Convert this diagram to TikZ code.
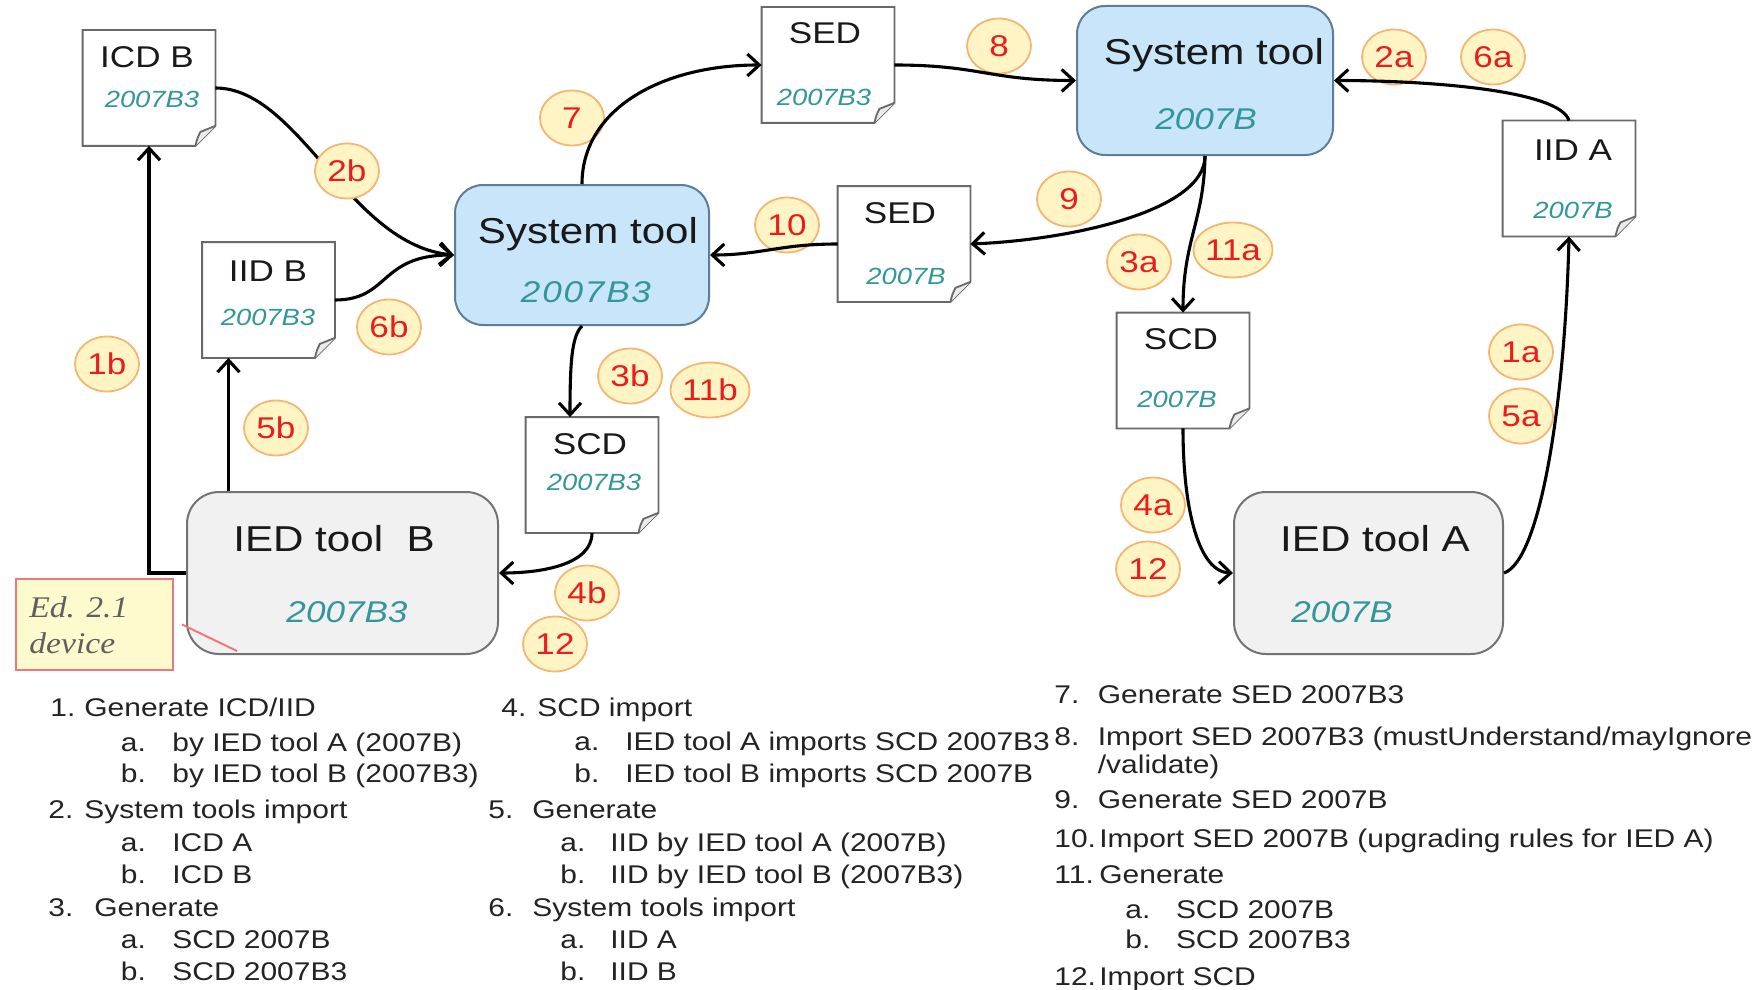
\documentclass[tikz,border=0pt]{standalone}
\usepackage{fontspec}
\setmainfont{Liberation Sans}[FakeStretch=1.17]
\newfontfamily\notefont{Liberation Serif}[FakeStretch=1.12]
\usetikzlibrary{arrows.meta,shapes.geometric,calc}

\definecolor{sysfill}{RGB}{200,229,249}
\definecolor{sysedge}{RGB}{95,125,150}
\definecolor{iedfill}{RGB}{241,241,241}
\definecolor{iededge}{RGB}{115,115,115}
\definecolor{vercol}{RGB}{50,150,155}
\definecolor{docedge}{RGB}{105,105,105}
\definecolor{flapfill}{RGB}{235,235,235}
\definecolor{badgefill}{RGB}{255,244,196}
\definecolor{badgeedge}{RGB}{244,182,115}
\definecolor{badgetext}{RGB}{232,30,30}
\definecolor{notefill}{RGB}{253,250,205}
\definecolor{noteedge}{RGB}{240,120,120}
\definecolor{notetext}{RGB}{95,95,95}
\definecolor{legendtext}{RGB}{35,35,35}
\definecolor{titletext}{RGB}{25,25,25}

\tikzset{
  flow/.style={line width=1.55pt, draw=black, -{Straight Barb[length=6pt,width=11pt]}},
  toolbox/.style={draw, line width=1pt, inner sep=0pt},
  systool/.style={toolbox, fill=sysfill, draw=sysedge, rounded corners=14pt},
  iedtool/.style={toolbox, fill=iedfill, draw=iededge, rounded corners=16pt},
  docnode/.style={inner sep=0pt, minimum width=66pt, minimum height=57.5pt},
  docline/.style={draw=docedge, line width=0.9pt},
  tooltitle/.style={anchor=base, inner sep=0pt, text=titletext, font=\fontsize{18}{18}\selectfont},
  toolver/.style={anchor=base, inner sep=0pt, text=vercol, font=\fontsize{15}{15}\selectfont\itshape},
  doctitle/.style={anchor=base, inner sep=0pt, text=titletext, font=\fontsize{15}{15}\selectfont},
  docver/.style={anchor=base, inner sep=0pt, text=vercol, font=\fontsize{11.7}{11.7}\selectfont\itshape},
  badge/.style={ellipse, draw=badgeedge, fill=badgefill, line width=0.9pt, text=badgetext,
    font=\fontsize{15}{15}\selectfont, inner sep=0pt, minimum width=32pt, minimum height=27.5pt},
  legend/.style={anchor=base west, inner sep=0pt, text=legendtext, font=\fontsize{12.8}{14}\selectfont},
  notebox/.style={draw=noteedge, fill=notefill, line width=1pt, minimum width=78.5pt, minimum height=45.5pt},
  notetxt/.style={anchor=base west, inner sep=0pt, text=notetext, font=\notefont\itshape\fontsize{15}{15}\selectfont},
}

% a document sheet with a curled lower right corner
\newcommand\docpage[6]{%
  \node[docnode] (#1) at #2 {};
  \draw[docline, fill=white] (#1.north west) -- (#1.north east) -- ($(#1.south east)+(0,-20)$)
    -- ($(#1.south east)+(-20,0)$) -- (#1.south west) -- cycle;
  \draw[docline, fill=flapfill] ($(#1.south east)+(-20,0)$) .. controls ($(#1.south east)+(-18,-8)$) ..
    ($(#1.south east)+(-15,-14)$) -- ($(#1.south east)+(0,-20)$);
  \node[doctitle] (#1-t) at #4 {#3};
  \node[docver] (#1-v) at #6 {#5};
}

\begin{document}
\begin{tikzpicture}[x=0.5pt,y=-0.5pt]
\useasboundingbox[fill=white] (0,0) rectangle (1761,990);

% tools
\node[systool, minimum width=127pt, minimum height=70pt] (stB3) at (582,255) {};
\node[tooltitle] (stB3-t) at (588,243) {System tool};
\node[toolver] (stB3-v) at (586,302) {\addfontfeature{LetterSpace=6}2007B3};

\node[systool, minimum width=128pt, minimum height=74.5pt] (stB) at (1205,80.5) {};
\node[tooltitle] (stB-t) at (1214,65) {System tool};
\node[toolver] (stB-v) at (1206,130) {2007B};

\node[iedtool, minimum width=155.5pt, minimum height=81pt] (iedB) at (342.5,573) {};
\node[tooltitle] (iedB-t) at (334,551) {IED tool\ \ B};
\node[toolver] (iedB-v) at (347,622) {2007B3};

\node[iedtool, minimum width=134.5pt, minimum height=81pt] (iedA) at (1368.5,573) {};
\node[tooltitle] (iedA-t) at (1375,551) {IED tool\ A};
\node[toolver] (iedA-v) at (1342,622) {2007B};

% documents
\docpage{icdb}{(149,88)}{ICD B}{(147,68)}{2007B3}{(152,108)}
\docpage{iidb}{(268.5,300)}{IID B}{(268,281)}{2007B3}{(268,325)}
\docpage{sedT}{(828,65)}{SED}{(825,44)}{2007B3}{(824,105)}
\docpage{sedM}{(904,244)}{SED}{(900,223)}{2007B}{(906,284)}
\docpage{iida}{(1569,178.5)}{IID A}{(1573,161)}{2007B}{(1573,218)}
\docpage{scdR}{(1183,370.5)}{SCD}{(1181,349)}{2007B}{(1177,407)}
\docpage{scdM}{(592,475)}{SCD}{(590,454)}{2007B3}{(594,490)}

% note
\node[notebox] (note) at (94.5,624.5) {};
\node[notetxt] (note-a) at (29,617) {Ed. 2.1};
\node[notetxt] (note-b) at (29,653) {device};
\coordinate (notetip) at (237,651);
\draw[draw=noteedge, line width=1pt] ([xshift=4pt]note.east) -- (notetip);

% step badges
\node[badge] (b7) at (572,118) {7};
\node[badge] (b8) at (999,46) {8};
\node[badge] (b2a) at (1394,57) {2a};
\node[badge] (b6a) at (1493,57) {6a};
\node[badge] (b10) at (787,225) {10};
\node[badge] (b9) at (1069,199) {9};
\node[badge] (b3a) at (1139,262) {3a};
\node[badge] (b11a) at (1233,250) {11a};
\node[badge] (b6b) at (389,327) {6b};
\node[badge] (b1b) at (107,364) {1b};
\node[badge] (b3b) at (630,376) {3b};
\node[badge] (b11b) at (710,390) {11b};
\node[badge] (b5b) at (276,428) {5b};
\node[badge] (b1a) at (1521,352) {1a};
\node[badge] (b5a) at (1521,416) {5a};
\node[badge] (b4a) at (1153,505) {4a};
\node[badge] (b12r) at (1148,569) {12};
\node[badge] (b4b) at (587,593) {4b};
\node[badge] (b12l) at (555,644) {12};

% flows
\coordinate (scdMin) at ([xshift=-11pt]scdM.north);
\coordinate (iidbin) at ([xshift=-20pt]iidb.south);
\draw[flow] (icdb.east) .. controls +(84,0) and +(-105,-10) .. (stB3.west);
\draw[flow] (iidb.east) .. controls +(55,0) and +(-75,0) .. (stB3.west);
\draw[flow] (stB3.north) .. controls +(0,-75) and +(-100,0) .. (sedT.west);
\draw[flow] (sedT.east) .. controls +(86,0) and +(-87,0) .. (stB.west);
\draw[flow] (stB.south) .. controls +(0,55) and +(100,-4) .. (sedM.east);
\draw[flow] (stB.south) .. controls +(-1,65) and +(0,-73) .. (scdR.north);
\draw[flow] (sedM.west) .. controls +(-58,0) and +(51,0) .. (stB3.east);
\draw[flow] (iida.north) .. controls +(-9,-30) and +(97,0) .. (stB.east);
\draw[flow] (iedA.east) .. controls +(37,-13) and +(-4,163) .. (iida.south);
\draw[flow] (scdR.south) .. controls +(0,82) and +(-34,-1) .. (iedA.west);
\draw[flow] (stB3.south) .. controls +(-10,10) and +(0,-57) .. (scdMin);
\draw[flow] (scdM.south) .. controls +(0,32) and +(42,0) .. (iedB.east);
\draw[flow] (iedB.west) -| (icdb.south);
\draw[flow] (iedB.north -| iidbin) -- (iidbin);

\node[badge] (b2b) at (347,171) {2b};

% legend, first column
\node[legend] (lg1n) at (50,716.7) {1.};
\node[legend] (lg1) at (84,716.7) {Generate ICD/IID};
\node[legend] (lg1an) at (120.5,751) {a.};
\node[legend] (lg1a) at (172,751) {by IED\ tool A (2007B)};
\node[legend] (lg1bn) at (120.5,782) {b.};
\node[legend] (lg1b) at (172,782) {by IED\ tool B (2007B3)};
\node[legend] (lg2n) at (48,818) {2.};
\node[legend] (lg2) at (84,818) {System tools import};
\node[legend] (lg2an) at (120.5,851) {a.};
\node[legend] (lg2a) at (172,851) {ICD A};
\node[legend] (lg2bn) at (120.5,883) {b.};
\node[legend] (lg2b) at (172,883) {ICD B};
\node[legend] (lg3n) at (48,916) {3.};
\node[legend] (lg3) at (94,916) {Generate};
\node[legend] (lg3an) at (120.5,948) {a.};
\node[legend] (lg3a) at (172,948) {SCD 2007B};
\node[legend] (lg3bn) at (120.5,980) {b.};
\node[legend] (lg3b) at (172,980) {SCD 2007B3};

% legend, second column
\node[legend] (lg4n) at (501,716.7) {4.};
\node[legend] (lg4) at (537,716.7) {SCD import};
\node[legend] (lg4an) at (574,750) {a.};
\node[legend] (lg4a) at (625,750) {IED tool A imports SCD 2007B3};
\node[legend] (lg4bn) at (574,782) {b.};
\node[legend] (lg4b) at (625,782) {IED tool B imports SCD 2007B};
\node[legend] (lg5n) at (488,818) {5.};
\node[legend] (lg5) at (532,818) {Generate};
\node[legend] (lg5an) at (560,851) {a.};
\node[legend] (lg5a) at (610,851) {IID by IED tool A (2007B)};
\node[legend] (lg5bn) at (560,883) {b.};
\node[legend] (lg5b) at (610,883) {IID by IED tool B (2007B3)};
\node[legend] (lg6n) at (488,916) {6.};
\node[legend] (lg6) at (532,916) {System tools import};
\node[legend] (lg6an) at (560,948) {a.};
\node[legend] (lg6a) at (610,948) {IID A};
\node[legend] (lg6bn) at (560,980) {b.};
\node[legend] (lg6b) at (610,980) {IID B};

% legend, third column
\node[legend] (lg7n) at (1054,703) {7.};
\node[legend] (lg7) at (1097.5,703) {Generate SED 2007B3};
\node[legend] (lg8n) at (1054,745) {8.};
\node[legend] (lg8) at (1097.5,745) {Import SED 2007B3 (mustUnderstand/mayIgnore};
\node[legend] (lg8c) at (1097.5,773) {/validate)};
\node[legend] (lg9n) at (1054,808) {9.};
\node[legend] (lg9) at (1097.5,808) {Generate SED 2007B};
\node[legend] (lg10n) at (1054,847) {10.};
\node[legend] (lg10) at (1099,847) {Import SED 2007B (upgrading rules for IED A)};
\node[legend] (lg11n) at (1054,883) {11.};
\node[legend] (lg11) at (1099,883) {Generate};
\node[legend] (lg11an) at (1125,918) {a.};
\node[legend] (lg11a) at (1175.6,918) {SCD 2007B};
\node[legend] (lg11bn) at (1125,948) {b.};
\node[legend] (lg11b) at (1175.6,948) {SCD 2007B3};
\node[legend] (lg12n) at (1054,985) {12.};
\node[legend] (lg12) at (1099,985) {Import SCD};
\end{tikzpicture}
\end{document}
